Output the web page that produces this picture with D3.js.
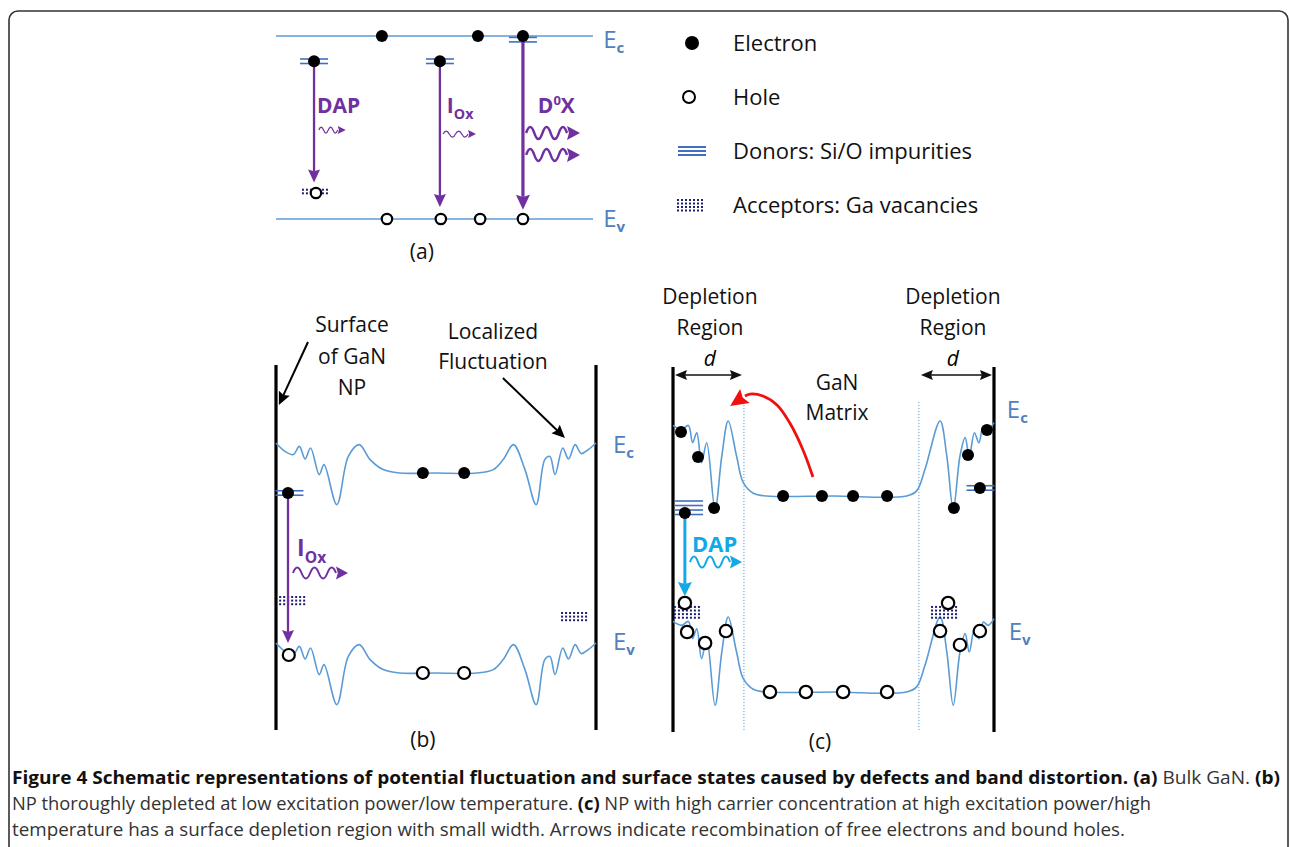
<!DOCTYPE html>
<html>
<head>
<meta charset="utf-8">
<script src="https://cdn.jsdelivr.net/npm/d3@7"></script>
<style>
  body { margin: 0; background: #fff; }
  svg { display: block; }
  text { font-family: "Open Sans", sans-serif; }
</style>
</head>
<body>
<div id="chart"></div>
<script>
// energies are normalised per panel: flat Ev = 0, flat Ec = 1; x runs 0..100 across a panel

// panel (a): bulk GaN
const aElectrons = [[33.4, 1], [63.7, 1], [77.9, 1], [12, 0.862], [51.7, 0.862]]
const aHoles = [[35, 0], [52, 0], [64.4, 0], [77.9, 0], [12.6, 0.142]]
const aDonors = [[12, 0.862, 2], [51.7, 0.862, 2], [77.9, 0.98, 2]]
const aAcceptors = [[8.5, 16.6, 0.16, 0.125]]
const aTransitions = [[12, 0.862, 0.2, 'thin'], [51.7, 0.862, 0.066, 'thin'], [77.9, 0.98, 0.05, 'thick']]
const aPhotons = [[13.5, 0.486, 8.5, 'small'], [52.7, 0.464, 10.4, 'small'], [78.9, 0.47, 17, 'big'], [78.9, 0.35, 17, 'big']]
const aTexts = [['DAP', '', '', 12.9, 0.579], ['I', 'Ox', '', 53.9, 0.579], ['D', '0', 'X', 82.6, 0.579]]
const aBandLabels = [['c', 103.2, 0.934], ['v', 103.2, -0.044]]

// panel (b): thoroughly depleted NP
const bProfile = [
  [0, 0.15], [2.8, 0.108], [5.4, 0.092], [7.3, 0.133], [9.1, 0.07], [10.8, 0.125],
  [13.5, -0.008], [15, 0.042], [19, -0.158], [22.6, 0.083], [26, 0.142], [29.4, 0.067],
  [33.5, 0.017], [38.8, 0], [50, 0], [62.7, 0], [67.9, 0.017], [71, 0.067], [74.2, 0.142],
  [77.8, 0.017], [81.3, -0.158], [84, 0.067], [85.6, 0.083], [87.2, -0.008], [89.6, 0.125],
  [91.4, 0.07], [93.5, 0.142], [95.4, 0.097], [97.6, 0.117], [100, 0.15]
]
const bElectrons = [[45.9, 1], [58.8, 1], [3.75, 0.9]]
const bHoles = [[45.9, 0], [58.8, 0], [4, 0.09]]
const bDonors = [[4.2, 0.9, 2]]
const bAcceptors = [[1.3, 9.7, 0.38, 0.34], [89.4, 97.8, 0.3, 0.26]]
const bTransitions = [[3.75, 0.9, 0.15, 'thin']]
const bPhotons = [[5.3, 0.5, 17.2, 'medium']]
const bTexts = [['I', 'Ox', '', 6.6, 0.585]]
const bBandLabels = [['c', 105.3, 1.1], ['v', 105.3, 0.115]]
const bNotes = [['Surface', 23.75, 1.74], ['of GaN', 23.75, 1.58], ['NP', 23.75, 1.425],
  ['Localized', 67.8, 1.705], ['Fluctuation', 67.8, 1.555], ['(b)', 45.9, -0.335]]
const bPointers = [[[10, 1.655], [0.9, 1.34]], [[70.9, 1.475], [90.3, 1.175]]]
const bWalls = [0, 100]
const bWallSpan = [1.54, -0.285]

// panel (c): NP with high carrier concentration
const cProfile = [
  [0, 0.36], [2.7, 0.34], [4.8, 0.36], [6.1, 0.272], [7.4, 0.323], [8.9, 0.17],
  [10.5, 0.272], [13.1, -0.068], [15.2, 0.204], [17.2, 0.383], [19.8, 0.204], [21.9, 0.068],
  [25, 0.014], [29.2, 0], [50, 0], [72.8, 0], [75.9, 0.026], [78.5, 0.136], [83.2, 0.383],
  [85.3, 0.204], [87.3, -0.068], [89.4, 0.204], [91, 0.298], [92.3, 0.204], [93.9, 0.323],
  [95.3, 0.272], [96.7, 0.357], [98.2, 0.34], [100, 0.374]
]
const cElectrons = [[2.5, 1.327], [7.8, 1.199], [12.8, 0.939], [34.3, 1], [46.4, 1], [56.1, 1],
  [66.7, 1], [97.8, 1.337], [91.9, 1.209], [87.5, 0.939], [95.6, 1.041], [3.7, 0.913]]
const cHoles = [[4.4, 0.306], [10, 0.25], [16.5, 0.311], [30.2, 0], [41.4, 0], [53, 0], [66.7, 0],
  [83.2, 0.311], [89.4, 0.24], [95.6, 0.311], [3.7, 0.454], [85.7, 0.454]]
const cDonors = [[5, 0.94, 4], [95.8, 1.041, 2]]
const cAcceptors = [[0.6, 8.4, 0.434, 0.367], [80.7, 88.8, 0.434, 0.367]]
const cTransitions = [[3.7, 0.913, 0.49, 'cyan']]
const cPhotons = [[5.3, 0.663, 16.2, 'cyan']]
const cTexts = [['DAP', '', '', 5.9, 0.714]]
const cBandLabels = [['c', 104, 1.398], ['v', 104.6, 0.265]]
const cNotes = [['Depletion', 11.5, 2.015], ['Region', 11.5, 1.857], ['Depletion', 87.2, 2.015],
  ['Region', 87.2, 1.857], ['GaN', 51.1, 1.577], ['Matrix', 51.1, 1.423], ['(c)', 45.8, -0.255]]
const cWidths = [[0, 22.1, 1.617], [76.6, 100, 1.617]]
const cWidthLabels = [['d', 11.5, 1.7], ['d', 87.2, 1.7]]
const cRegionEdges = [22.1, 76.6]
const cEdgeSpan = [1.48, -0.194]
// red "bend" arrow: curve points, the last one is the arrow tip
const cBend = [[43.6, 1.097], [40.5, 1.235], [36.4, 1.372], [32.4, 1.464], [28, 1.51], [24, 1.52], [22.4, 1.51], [17.8, 1.459]]
const cWalls = [0, 100]
const cWallSpan = [1.658, -0.204]

// legend and caption
const legendItems = ['Electron', 'Hole', 'Donors: Si/O impurities', 'Acceptors: Ga vacancies']
const captionLines = [
  [['Figure 4 Schematic representations of potential fluctuation and surface states caused by defects and band distortion. ', true],
    ['(a)', true], [' Bulk GaN. ', false], ['(b)', true]],
  [['NP thoroughly depleted at low excitation power/low temperature. ', false], ['(c)', true],
    [' NP with high carrier concentration at high excitation power/high', false]],
  [['temperature has a surface depletion region with small width. Arrows indicate recombination of free electrons and bound holes.', false]]
]
const captionWidths = [1268, 1139, 1113]

const purple = '#7030a0'
const cyan = '#13a8e6'
const band = '#5b9bd5'
const donorBlue = '#3f6fc0'
const labelBlue = '#4f81bd'
const navy = '#1c1f74'

const width = 1290
const height = 847

const svg = d3.select('#chart')
  .append('svg')
  .attr('width', width)
  .attr('height', height)

svg.append('rect')
  .attr('x', 9).attr('y', 11)
  .attr('width', 1279).attr('height', 880)
  .attr('rx', 9)
  .attr('fill', 'none')
  .attr('stroke', '#333')
  .attr('stroke-width', 1.6)

const panelA = { x: d3.scaleLinear([0, 100], [276, 593]), y: d3.scaleLinear([0, 1], [219, 36]), g: svg.append('g') }
const panelB = { x: d3.scaleLinear([0, 100], [276, 596]), y: d3.scaleLinear([0, 1], [673, 473]), g: svg.append('g') }
const panelC = { x: d3.scaleLinear([0, 100], [673, 994]), y: d3.scaleLinear([0, 1], [692, 496]), g: svg.append('g') }

const arrowHead = (g, tx, ty, angle, len, half, color) => {
  const bx = tx - len * Math.cos(angle)
  const by = ty - len * Math.sin(angle)
  const px = -Math.sin(angle) * half
  const py = Math.cos(angle) * half
  g.append('path')
    .attr('d', `M${tx},${ty}L${bx + px},${by + py}L${bx + len * 0.15 * Math.cos(angle)},${by + len * 0.15 * Math.sin(angle)}L${bx - px},${by - py}Z`)
    .attr('fill', color)
}

const photonStyle = {
  small: { amp: 3, periods: 2, w: 1.2, head: 8, half: 4, color: purple },
  big: { amp: 6, periods: 2.5, w: 2.4, head: 13, half: 7, color: purple },
  medium: { amp: 5.5, periods: 2.5, w: 2, head: 12, half: 6.5, color: purple },
  cyan: { amp: 5.5, periods: 2.5, w: 2, head: 12, half: 6.5, color: cyan }
}

const transitionStyle = {
  thin: { w: 2.3, head: 13, half: 6, color: purple },
  thick: { w: 3.2, head: 15, half: 7, color: purple },
  cyan: { w: 3, head: 14, half: 7, color: cyan }
}

const drawDonors = (p, data) => {
  data.forEach(([x, e, n]) => {
    const cx = p.x(x)
    d3.range(n).forEach(i => {
      const y = p.y(e) + (i - (n - 1) / 2) * 4.5
      p.g.append('line')
        .attr('x1', cx - 14).attr('x2', cx + 14)
        .attr('y1', y).attr('y2', y)
        .attr('stroke', donorBlue)
        .attr('stroke-width', 1.6)
    })
  })
}

const drawAcceptors = (p, data) => {
  data.forEach(([x0, x1, e0, e1]) => {
    const xs = d3.range(p.x(x0), p.x(x1) + 0.1, 4)
    const ys = d3.range(p.y(e0), p.y(e1) + 0.1, 3.6)
    xs.forEach(x => ys.forEach(y => {
      p.g.append('rect')
        .attr('x', x - 1).attr('y', y - 1)
        .attr('width', 2).attr('height', 2)
        .attr('fill', navy)
    }))
  })
}

const drawTransitions = (p, data) => {
  data.forEach(([x, from, to, kind]) => {
    const s = transitionStyle[kind]
    const tx = p.x(x)
    const ty = p.y(to)
    p.g.append('line')
      .attr('x1', tx).attr('x2', tx)
      .attr('y1', p.y(from)).attr('y2', ty - s.head + 2)
      .attr('stroke', s.color)
      .attr('stroke-width', s.w)
    arrowHead(p.g, tx, ty, Math.PI / 2, s.head, s.half, s.color)
  })
}

const drawPhotons = (p, data) => {
  data.forEach(([x, e, len, kind]) => {
    const s = photonStyle[kind]
    const x0 = p.x(x)
    const y0 = p.y(e)
    const total = p.x(x + len) - x0
    const waveLen = total - s.head
    const halfWave = waveLen / (s.periods * 2)
    let d = `M${x0},${y0}`
    d3.range(Math.round(s.periods * 2)).forEach(i => {
      const sx = x0 + i * halfWave
      const dir = i % 2 === 0 ? -1 : 1
      d += `Q${sx + halfWave / 2},${y0 + dir * s.amp * 2} ${sx + halfWave},${y0}`
    })
    p.g.append('path')
      .attr('d', d)
      .attr('fill', 'none')
      .attr('stroke', s.color)
      .attr('stroke-width', s.w)
    arrowHead(p.g, x0 + total, y0, 0, s.head, s.half, s.color)
  })
}

const drawElectrons = (p, data, r) => {
  p.g.selectAll(null)
    .data(data)
    .join('circle')
    .attr('cx', d => p.x(d[0]))
    .attr('cy', d => p.y(d[1]))
    .attr('r', r)
    .attr('fill', '#000')
}

const drawHoles = (p, data, r) => {
  p.g.selectAll(null)
    .data(data)
    .join('circle')
    .attr('cx', d => p.x(d[0]))
    .attr('cy', d => p.y(d[1]))
    .attr('r', r)
    .attr('fill', '#fff')
    .attr('stroke', '#000')
    .attr('stroke-width', 2.2)
}

const drawTexts = (p, data, color, size) => {
  data.forEach(([main, sub, tail, x, e]) => {
    const t = p.g.append('text')
      .attr('x', p.x(x)).attr('y', p.y(e))
      .attr('fill', color)
      .attr('font-weight', 700)
      .attr('font-size', size)
    t.append('tspan').text(main)
    if (sub && tail) {
      t.append('tspan').attr('dy', -size * 0.4).attr('font-size', size * 0.62).text(sub)
      t.append('tspan').attr('dy', size * 0.4).text(tail)
    } else if (sub) {
      t.append('tspan').attr('dy', size * 0.3).attr('font-size', size * 0.68).text(sub)
    }
  })
}

const drawBandLabels = (p, data) => {
  data.forEach(([sub, x, e]) => {
    const t = p.g.append('text')
      .attr('x', p.x(x)).attr('y', p.y(e))
      .attr('fill', labelBlue)
      .attr('font-size', 24)
    t.append('tspan').text('E')
    t.append('tspan').attr('dy', 5).attr('font-size', 15).attr('font-weight', 700).text(sub)
  })
}

const drawNotes = (p, data, size) => {
  p.g.selectAll(null)
    .data(data)
    .join('text')
    .attr('x', d => p.x(d[1]))
    .attr('y', d => p.y(d[2]))
    .attr('dy', '0.35em')
    .attr('text-anchor', 'middle')
    .attr('font-size', size)
    .attr('fill', '#111')
    .text(d => d[0])
}

const drawWalls = (p, xs, span) => {
  xs.forEach(x => {
    p.g.append('line')
      .attr('x1', p.x(x)).attr('x2', p.x(x))
      .attr('y1', p.y(span[0])).attr('y2', p.y(span[1]))
      .attr('stroke', '#000')
      .attr('stroke-width', 3.2)
  })
}

const bandLine = (p, offset) => d3.line()
  .x(d => p.x(d[0]))
  .y(d => p.y(d[1] + offset))
  .curve(d3.curveCatmullRom.alpha(0.5))

const drawBands = (p, profile) => {
  ;[1, 0].forEach(offset => {
    p.g.append('path')
      .attr('d', bandLine(p, offset)(profile))
      .attr('fill', 'none')
      .attr('stroke', band)
      .attr('stroke-width', 1.6)
  })
}

// ---- panel (a)
;[1, 0].forEach(e => {
  panelA.g.append('line')
    .attr('x1', panelA.x(0)).attr('x2', panelA.x(100))
    .attr('y1', panelA.y(e)).attr('y2', panelA.y(e))
    .attr('stroke', band)
    .attr('stroke-width', 1.6)
})
drawDonors(panelA, aDonors)
drawAcceptors(panelA, aAcceptors)
drawTransitions(panelA, aTransitions)
drawPhotons(panelA, aPhotons)
drawElectrons(panelA, aElectrons, 6)
drawHoles(panelA, aHoles, 5.2)
drawTexts(panelA, aTexts, purple, 21)
drawBandLabels(panelA, aBandLabels)
drawNotes(panelA, [['(a)', 46, -0.18]], 21)

// ---- panel (b)
drawWalls(panelB, bWalls, bWallSpan)
drawBands(panelB, bProfile)
drawDonors(panelB, bDonors)
drawAcceptors(panelB, bAcceptors)
drawTransitions(panelB, bTransitions)
drawPhotons(panelB, bPhotons)
drawElectrons(panelB, bElectrons, 6)
drawHoles(panelB, bHoles, 6)
drawTexts(panelB, bTexts, purple, 23)
drawBandLabels(panelB, bBandLabels)
drawNotes(panelB, bNotes, 21)
bPointers.forEach(([from, to]) => {
  const x1 = panelB.x(from[0]), y1 = panelB.y(from[1])
  const x2 = panelB.x(to[0]), y2 = panelB.y(to[1])
  const ang = Math.atan2(y2 - y1, x2 - x1)
  panelB.g.append('line')
    .attr('x1', x1).attr('y1', y1)
    .attr('x2', x2 - 10 * Math.cos(ang)).attr('y2', y2 - 10 * Math.sin(ang))
    .attr('stroke', '#000')
    .attr('stroke-width', 2)
  arrowHead(panelB.g, x2, y2, ang, 13, 6, '#000')
})

// ---- panel (c)
cRegionEdges.forEach(x => {
  panelC.g.append('line')
    .attr('x1', panelC.x(x)).attr('x2', panelC.x(x))
    .attr('y1', panelC.y(cEdgeSpan[0])).attr('y2', panelC.y(cEdgeSpan[1]))
    .attr('stroke', band)
    .attr('stroke-width', 1)
    .attr('stroke-dasharray', '1.2 1.8')
})
drawWalls(panelC, cWalls, cWallSpan)
drawBands(panelC, cProfile)
drawDonors(panelC, cDonors)
drawAcceptors(panelC, cAcceptors)
drawTransitions(panelC, cTransitions)
drawPhotons(panelC, cPhotons)
drawElectrons(panelC, cElectrons, 6)
drawHoles(panelC, cHoles, 6.2)
drawTexts(panelC, cTexts, cyan, 22)
drawBandLabels(panelC, cBandLabels)
drawNotes(panelC, cNotes, 21)
cWidthLabels.forEach(([t, x, e]) => {
  panelC.g.append('text')
    .attr('x', panelC.x(x)).attr('y', panelC.y(e))
    .attr('dy', '0.35em')
    .attr('text-anchor', 'middle')
    .attr('font-size', 21)
    .attr('font-style', 'italic')
    .text(t)
})
cWidths.forEach(([x0, x1, e]) => {
  const y = panelC.y(e)
  const l = panelC.x(x0) + 2, r = panelC.x(x1) - 2
  panelC.g.append('line')
    .attr('x1', l + 8).attr('x2', r - 8)
    .attr('y1', y).attr('y2', y)
    .attr('stroke', '#111').attr('stroke-width', 1.6)
  arrowHead(panelC.g, l, y, Math.PI, 12, 5, '#111')
  arrowHead(panelC.g, r, y, 0, 12, 5, '#111')
})
const bendLine = d3.line()
  .x(d => panelC.x(d[0]))
  .y(d => panelC.y(d[1]))
  .curve(d3.curveCatmullRom.alpha(0.5))
panelC.g.append('path')
  .attr('d', bendLine(cBend.slice(0, -1)))
  .attr('fill', 'none')
  .attr('stroke', '#f01010')
  .attr('stroke-width', 2.8)
{
  const base = cBend[cBend.length - 2]
  const tip = cBend[cBend.length - 1]
  const x1 = panelC.x(base[0]), y1 = panelC.y(base[1])
  const x2 = panelC.x(tip[0]), y2 = panelC.y(tip[1])
  const ang = Math.atan2(y2 - y1, x2 - x1)
  const len = Math.hypot(x2 - x1, y2 - y1)
  arrowHead(panelC.g, x2, y2, ang, len, 8.5, '#f01010')
}

// ---- legend
const legendY = d3.scalePoint(legendItems, [43, 205])
const legend = svg.append('g')
legend.selectAll(null)
  .data(legendItems)
  .join('text')
  .attr('x', 733)
  .attr('y', d => legendY(d))
  .attr('dy', '0.35em')
  .attr('font-size', 22)
  .attr('fill', '#111')
  .text(d => d)
legend.append('circle')
  .attr('cx', 692).attr('cy', legendY(legendItems[0]))
  .attr('r', 7).attr('fill', '#000')
legend.append('circle')
  .attr('cx', 689).attr('cy', legendY(legendItems[1]))
  .attr('r', 6).attr('fill', '#fff').attr('stroke', '#000').attr('stroke-width', 2)
;[-4, 0, 4].forEach(dy => {
  legend.append('line')
    .attr('x1', 678).attr('x2', 706)
    .attr('y1', legendY(legendItems[2]) + dy).attr('y2', legendY(legendItems[2]) + dy)
    .attr('stroke', donorBlue).attr('stroke-width', 2)
})
d3.range(678, 705, 4).forEach(x => d3.range(-5, 6, 3.5).forEach(dy => {
  legend.append('rect')
    .attr('x', x - 1).attr('y', legendY(legendItems[3]) + dy - 1)
    .attr('width', 2).attr('height', 2)
    .attr('fill', navy)
}))

// ---- caption
const captionY = d3.scalePoint(d3.range(captionLines.length), [784, 836])
captionLines.forEach((parts, i) => {
  const t = svg.append('text')
    .attr('x', 12)
    .attr('y', captionY(i))
    .attr('font-size', 18)
    .attr('textLength', captionWidths[i])
    .attr('lengthAdjust', 'spacingAndGlyphs')
  parts.forEach(([s, bold]) => {
    t.append('tspan')
      .attr('font-weight', bold ? 700 : 400)
      .attr('fill', bold ? '#111' : '#333')
      .text(s)
  })
})
</script>
</body>
</html>
